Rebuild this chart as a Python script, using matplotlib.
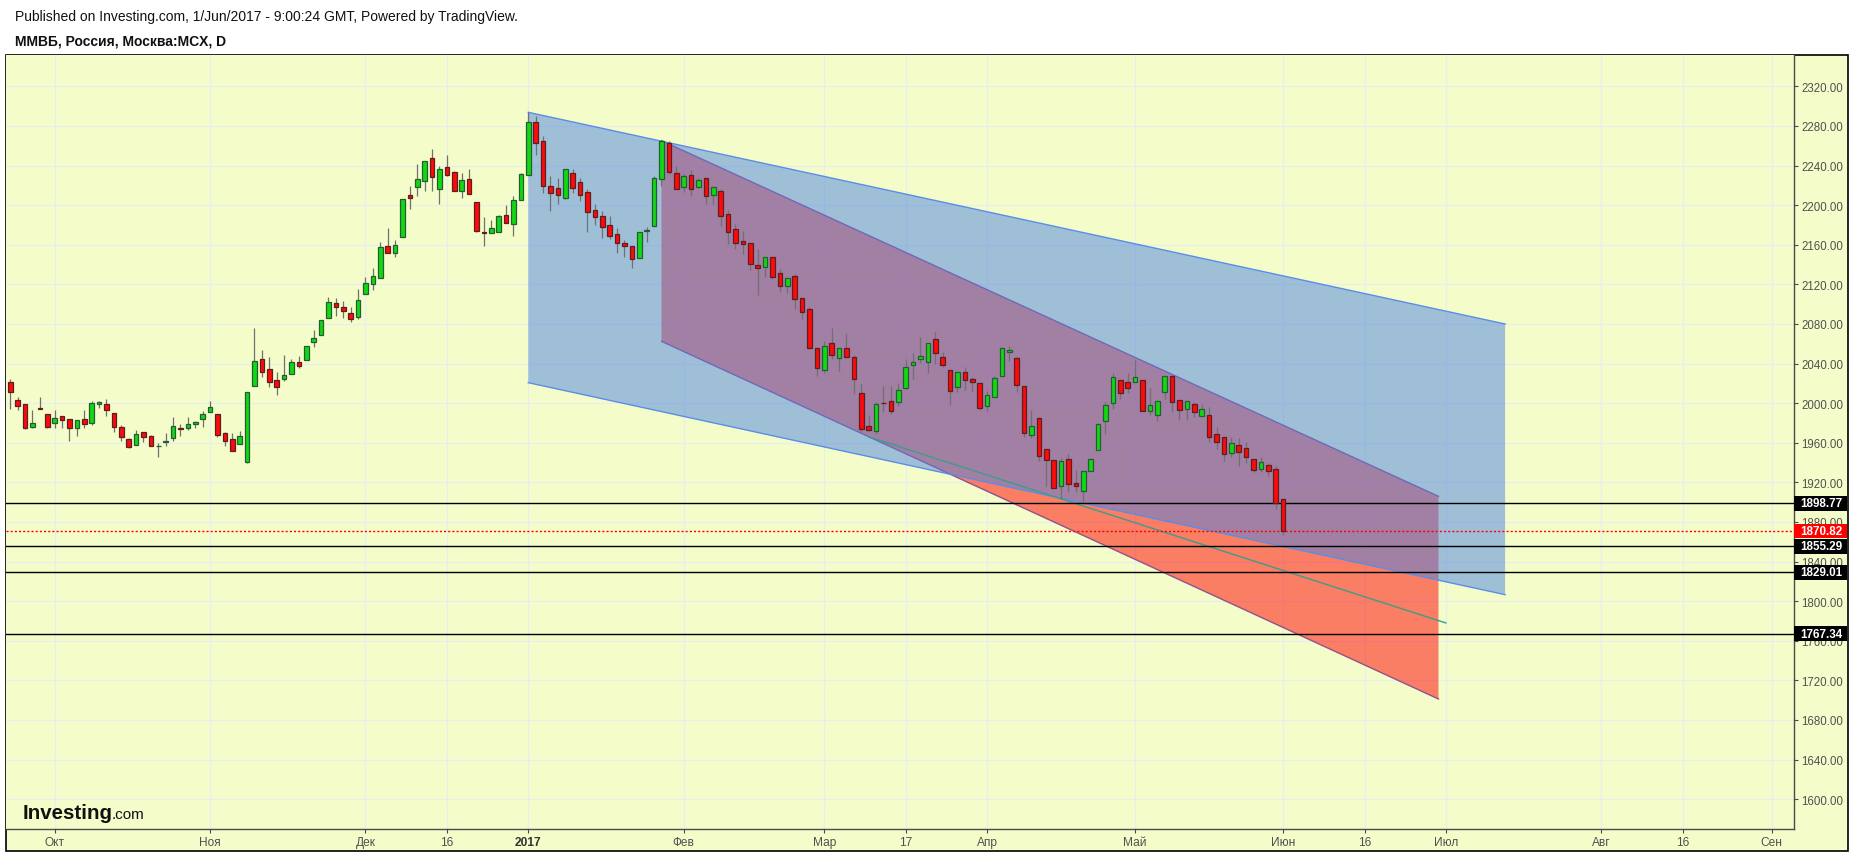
"""
MICEX daily candles, Oct 2016 - Jun 2017, with channel drawings
(TradingView chart as published on Investing.com).
"""

import matplotlib

matplotlib.use("Agg")

import matplotlib.pyplot as plt
import matplotlib.transforms as mtransforms
import numpy as np
from matplotlib.patches import Polygon, Rectangle

W, H, DPI = 1851, 854, 100

BG = "#f4fdca"
GRID = "#e8eee9"
AXIS_TEXT = "#505050"
UP_FILL, UP_EDGE = "#12d812", "#245c33"
DOWN_FILL, DOWN_EDGE = "#ff0a0a", "#5c1e1e"
WICK = "#707070"

plt.rcParams["font.family"] = ["Liberation Sans", "DejaVu Sans"]

TITLE = "Published on Investing.com, 1/Jun/2017 - 9:00:24 GMT, Powered by TradingView."
SYMBOL = "ММВБ, Россия, Москва:MCX, D"

# daily bars, index 0 = 23 Sep 2016, index 172 = 1 Jun 2017
OPENS = [
    2021, 2003, 1999, 1976, 1995.2, 1988.8, 1979.6, 1987, 1983.7, 1974.6,
    1983.7, 1979.6, 1999.5, 1998.9, 1989.7, 1975.6, 1963.5, 1957.5, 1970.6, 1966.5,
    1956.4, 1960.5, 1964.5, 1974.5, 1974.6, 1978.7, 1983.7, 1990.8, 1988.8, 1969.6,
    1963.5, 1958.5, 1940.9, 2017, 2044.3, 2034.2, 2023.8, 2024.1, 2029.2, 2041.3,
    2043.3, 2061.5, 2068.5, 2085.7, 2100.9, 2096.8, 2090.8, 2086.7, 2110, 2120.1,
    2126.1, 2158.5, 2152.1, 2167.5, 2210, 2218, 2224.1, 2247.3, 2216, 2238.2,
    2233.2, 2214, 2226.1, 2202.9, 2172.5, 2171.6, 2172.6, 2189.8, 2180.7, 2204.9,
    2230.2, 2283.7, 2264.5, 2219.7, 2217, 2207.6, 2232.2, 2223.1, 2213, 2194.8,
    2188.8, 2179.7, 2170.6, 2161.5, 2159.1, 2146.3, 2174.3, 2178.7, 2226.1, 2262.5,
    2232.2, 2218.1, 2230.2, 2218.1, 2227.1, 2210, 2214, 2190.8, 2175.6, 2163.5,
    2161.5, 2139.3, 2137.2, 2147.3, 2131.2, 2118.1, 2128.1, 2105.9, 2094.8, 2056.1,
    2033.2, 2061.1, 2045.3, 2055.4, 2046.3, 2010, 1976.6, 1971.6, 2000.6, 2001.9,
    2000.9, 2015, 2038.3, 2044.3, 2041.3, 2064.5, 2046.3, 2033.2, 2016, 2031.2,
    2024.1, 2020.1, 1997.5, 2006.6, 2027.8, 2051.4, 2045.3, 2017, 1968.2, 1984.7,
    1953.4, 1942.3, 1916, 1943.3, 1919.4, 1911.7, 1931.9, 1953.1, 1982.4, 1999.9,
    2023.1, 2021.1, 2021.1, 2023.1, 1992.5, 1988.4, 2011.6, 2027.1, 2002.9, 1994.5,
    1998.9, 1987.4, 1987.7, 1968.6, 1965.5, 1949.4, 1957.5, 1954.7, 1943.3, 1933.9,
    1937.2, 1933.2, 1902.9,
]
HIGHS = [
    2024, 2006, 1999, 1993, 2006, 1989.5, 1993, 1987.5, 1984, 1983,
    1993, 2001.9, 2002, 2003.9, 1990, 1978, 1964.5, 1972.9, 1970.6, 1967.9,
    1959.5, 1969.9, 1986, 1979, 1986, 1982.4, 1992.1, 2002.2, 1988.8, 1970.6,
    1969.9, 1971.9, 2011, 2075.7, 2053.8, 2046.6, 2031.2, 2048.7, 2044.6, 2047.3,
    2058.1, 2074, 2084.4, 2107, 2105.9, 2103.6, 2096.8, 2115.3, 2127.8, 2136.2,
    2162.5, 2177, 2164.8, 2206.3, 2219, 2241.6, 2245, 2256.8, 2240, 2250.7,
    2234.9, 2232.5, 2236.2, 2202.9, 2187.7, 2184.7, 2190.1, 2200.2, 2209, 2233,
    2293.8, 2290, 2269.6, 2229.2, 2227.1, 2236.2, 2236.2, 2227.1, 2216.4, 2200.9,
    2194.1, 2188.8, 2176.6, 2164.5, 2159.1, 2173.3, 2177.6, 2229.2, 2265.5, 2264.5,
    2239.3, 2231, 2235.2, 2227.1, 2227.1, 2218.1, 2216, 2194.8, 2180.7, 2173.6,
    2161.5, 2155.4, 2147.3, 2147.3, 2135.2, 2126.1, 2130.2, 2105.9, 2096.8, 2056.1,
    2062.8, 2075.6, 2055.4, 2070.6, 2048.4, 2019.1, 1987.7, 2000.9, 2017, 2017,
    2020.1, 2044.3, 2050.4, 2066.5, 2060.5, 2071.6, 2051.4, 2033.2, 2031.2, 2036.2,
    2026.1, 2020.1, 2012.6, 2027.8, 2057, 2057.4, 2047.3, 2017, 1993.1, 1985.7,
    1953.4, 1942.3, 1944.3, 1948.4, 1932.2, 1931.2, 1943.3, 1978.7, 2000.9, 2030.2,
    2023.1, 2030.2, 2043.3, 2023.1, 2015, 2001.9, 2027.1, 2027.1, 2002.9, 2001.9,
    2000.9, 1998.9, 1995.8, 1975.6, 1965.5, 1965.5, 1964.5, 1960.5, 1943.3, 1945.3,
    1939.3, 1936.2, 1902.9,
]
LOWS = [
    1994, 1993, 1974, 1975, 1994, 1975.3, 1975.3, 1975, 1962, 1967.2,
    1974.6, 1977.6, 1995, 1986.7, 1970.6, 1962.2, 1954.4, 1957.5, 1961, 1956.4,
    1946, 1957, 1962.2, 1967.2, 1973, 1975.3, 1976.3, 1990.8, 1966.2, 1957,
    1951.4, 1958.5, 1939.3, 2017, 2026, 2016.7, 2008.6, 2022.8, 2029.2, 2035.9,
    2043.3, 2057.1, 2068.5, 2085.7, 2088.4, 2086.4, 2082.4, 2085, 2110, 2114.7,
    2126.1, 2151.4, 2148, 2167.5, 2196.5, 2209.6, 2214.7, 2214.7, 2201.5, 2229.2,
    2214, 2207, 2211, 2172.6, 2159.1, 2171.6, 2172.6, 2181.7, 2169.2, 2204.9,
    2230.2, 2251, 2212.3, 2194.5, 2201.5, 2206, 2212, 2204.6, 2173.3, 2180,
    2166.5, 2165.9, 2151.4, 2147.3, 2136.2, 2146.3, 2163.2, 2178.7, 2219.1, 2231.5,
    2216, 2213, 2209.6, 2217, 2201.5, 2200.9, 2179.3, 2160.5, 2156.1, 2150.4,
    2134.9, 2109.6, 2127.1, 2125.1, 2112.7, 2111, 2094.8, 2085, 2054.8, 2027.2,
    2030.2, 2044.3, 2032.2, 2045.3, 2009, 1971.6, 1971.6, 1968.6, 1990.8, 1988.8,
    1997.5, 2014, 2024.4, 2040.3, 2030.2, 2039.3, 2036.2, 1997.9, 2011, 2013,
    2012, 1992.8, 1992.4, 2006.6, 2027.8, 2043, 2011, 1965.5, 1964.8, 1942,
    1916.7, 1914, 1902.9, 1910.6, 1910.6, 1900.5, 1931.9, 1953.1, 1969.2, 1994.5,
    2004.6, 2010.6, 2021.1, 1992.5, 1988.4, 1982.4, 2004.2, 1991.5, 1983.4, 1983.4,
    1986.4, 1987.4, 1961.2, 1953.7, 1942, 1945.3, 1936.9, 1939.9, 1930.8, 1930.8,
    1926.8, 1893.1, 1867.2,
]
CLOSES = [
    2011, 1997, 1974.6, 1979.6, 1994.6, 1976.3, 1985.4, 1983.4, 1974.6, 1982.7,
    1978.7, 1999.9, 2001.2, 1992.8, 1975.6, 1965.5, 1956.1, 1968.5, 1966.2, 1956.4,
    1956.6, 1961.8, 1976.6, 1973.9, 1978.7, 1981, 1988.8, 1995.8, 1967.5, 1961.5,
    1951.4, 1966.5, 2011, 2043, 2031.2, 2021.1, 2016, 2028.1, 2041.3, 2037.2,
    2057.4, 2065.5, 2084.4, 2101.9, 2096.8, 2093.5, 2085.4, 2103.9, 2121.1, 2128.1,
    2157.4, 2151.4, 2159.8, 2206.3, 2207, 2226.1, 2245, 2228.2, 2236.2, 2230.2,
    2214, 2225.1, 2211, 2173.6, 2172.2, 2176.6, 2188.8, 2181.7, 2204.9, 2231.2,
    2283.7, 2262.5, 2219.1, 2212.7, 2210, 2236.2, 2217, 2210.6, 2193.5, 2187.7,
    2177.6, 2168.6, 2161.5, 2158.5, 2145.3, 2173.3, 2174.5, 2227.8, 2264.5, 2233.2,
    2216, 2229.8, 2216, 2225.1, 2209, 2218.1, 2188.8, 2172.6, 2161.5, 2160.5,
    2140.3, 2136.2, 2147.3, 2127.1, 2118.1, 2126.1, 2104.9, 2091.8, 2055.4, 2035.2,
    2058.1, 2048.4, 2055.4, 2046.3, 2024.1, 1973.6, 1972.6, 1998.9, 2000.2, 1991.8,
    2013, 2036.2, 2041.3, 2047.3, 2060.5, 2050.4, 2038.3, 2012, 2031.2, 2023.1,
    2021.1, 1994.8, 2008.3, 2025.1, 2055.8, 2053.4, 2018.7, 1970.2, 1976.6, 1947,
    1943, 1914.7, 1941.3, 1918.7, 1916, 1931.2, 1943.3, 1978.7, 1997.9, 2026.1,
    2010.6, 2015.7, 2026.1, 1992.5, 1997.9, 2001.9, 2027.1, 2001.5, 1993.4, 2001.9,
    1991.5, 1993.8, 1966.2, 1961.2, 1949, 1959.5, 1951, 1946, 1932.9, 1940.3,
    1931.9, 1898.77, 1870.82,
]

TIME_TICKS = [6, 27, 48, 59, 70, 91, 110, 121, 132, 152, 172, 183, 194, 215, 226, 238]
TIME_LABELS = ["Окт", "Ноя", "Дек", "16", "2017", "Фев", "Мар", "17", "Апр",
               "Май", "Июн", "16", "Июл", "Авг", "16", "Сен"]
PRICE_TICKS = list(range(1600, 2321, 40))

LEVELS = [1898.77, 1855.29, 1829.01, 1767.34]
LAST_PRICE = 1870.82

# drawings: (bar index, price) anchors
BLUE_CHANNEL = [(70, 2293.8), (202, 2080.0), (202, 1806.6), (70, 2020.7)]
RED_CHANNEL = [(88, 2265.2), (193, 1905.9), (193, 1701.2), (88, 2062.5)]
TREND_LINE = [(116, 1966.0), (194, 1778.0)]


def draw_candles(ax):
    o, h, l, c = (np.asarray(a, dtype=float) for a in (OPENS, HIGHS, LOWS, CLOSES))
    x = np.arange(len(o))
    up = c >= o
    bottoms = np.minimum(o, c)
    heights = np.maximum(np.abs(c - o), 0.4)

    ax.vlines(x, l, h, color=WICK, lw=0.9, zorder=4)
    ax.bar(x[up], heights[up], bottom=bottoms[up], width=0.64,
           color=UP_FILL, edgecolor=UP_EDGE, lw=0.9, zorder=5)
    ax.bar(x[~up], heights[~up], bottom=bottoms[~up], width=0.64,
           color=DOWN_FILL, edgecolor=DOWN_EDGE, lw=0.9, zorder=5)


def draw_channel(ax, pts, fill, alpha, edge, z):
    ax.add_patch(Polygon(pts, closed=True, fc=fill, alpha=alpha, ec="none", zorder=z))
    for a, b in ((pts[0], pts[1]), (pts[3], pts[2])):
        ax.plot([a[0], b[0]], [a[1], b[1]], color=edge, lw=1.0, zorder=z + 0.1)


def price_tag(ax, value, color):
    trans = mtransforms.blended_transform_factory(ax.transAxes, ax.transData)
    ax.add_patch(Rectangle((1.0, value - 7.3), 53 / 1788, 14.6, transform=trans,
                           fc=color, ec="none", clip_on=False, zorder=8))
    ax.text(1.0 + 27 / 1788, value, f"{value:.2f}", transform=trans,
            ha="center", va="center", color="white", fontsize=8.4,
            fontweight="bold", clip_on=False, zorder=9)


fig = plt.figure(figsize=(W / DPI, H / DPI), dpi=DPI)
fig.patch.set_facecolor("white")

frame = Rectangle((5.5 / W, 1 - 852 / H), 1842 / W, 796.5 / H,
                  transform=fig.transFigure, fc=BG, ec="black", lw=1.2, zorder=-5)
fig.patches.append(frame)

ax = fig.add_axes([6 / W, 1 - 830 / H, 1788 / W, 774.5 / H])
ax.set_zorder(1)
ax.set_facecolor(BG)
ax.set_xlim(-0.58, 241.04)
ax.set_ylim(1569.9, 2352.2)

for side in ("left", "top"):
    ax.spines[side].set_visible(False)
for side in ("right", "bottom"):
    ax.spines[side].set_color("#4a4a4a")
    ax.spines[side].set_linewidth(1.0)

ax.yaxis.tick_right()
ax.set_yticks(PRICE_TICKS)
ax.set_yticklabels([f"{v:.2f}" for v in PRICE_TICKS])
ax.set_xticks(TIME_TICKS)
ax.set_xticklabels(TIME_LABELS)
ax.tick_params(axis="y", length=3, width=0.8, color="#4a4a4a", pad=2.5,
               labelsize=8.3, labelcolor=AXIS_TEXT)
ax.tick_params(axis="x", length=3, width=0.8, color="#4a4a4a", pad=2,
               labelsize=8.6, labelcolor=AXIS_TEXT)
for lab in ax.get_xticklabels():
    lab.set_family(["Liberation Sans Narrow", "Liberation Sans"])
    if lab.get_text() == "2017":
        lab.set_fontweight("bold")
        lab.set_color("#333333")

ax.grid(True, color=GRID, lw=1.0, zorder=0)
ax.set_axisbelow(True)

draw_channel(ax, RED_CHANNEL, "#ff0000", 0.5, "#94508c", 1)
draw_channel(ax, BLUE_CHANNEL, "#4b82e5", 0.5, "#5a8ee6", 2)
ax.plot([p[0] for p in TREND_LINE], [p[1] for p in TREND_LINE],
        color="#3c9d8c", lw=1.0, zorder=3)

for lvl in LEVELS:
    ax.axhline(lvl, color="black", lw=1.0, zorder=3.5)
ax.axhline(LAST_PRICE, color="red", lw=1.0, ls=(0, (1.5, 1.5)), zorder=3.5)

draw_candles(ax)

for lvl in LEVELS:
    price_tag(ax, lvl, "black")
price_tag(ax, LAST_PRICE, "#ff0000")

fig.text(15 / W, 1 - 17 / H, TITLE, fontsize=10, color="#111111", va="center")
fig.text(15 / W, 1 - 41 / H, SYMBOL, fontsize=10, color="#111111",
         fontweight="bold", va="center")

ax.text(17 / 1788, (830 - 819.5) / 774.5, "Investing", transform=ax.transAxes,
        fontsize=14.8, fontweight="bold", color="#111111", va="baseline", zorder=10)
ax.text(106 / 1788, (830 - 819.5) / 774.5, ".com", transform=ax.transAxes,
        fontsize=11, color="#111111", va="baseline", zorder=10)

fig.savefig("out.png", dpi=DPI, facecolor="white")
